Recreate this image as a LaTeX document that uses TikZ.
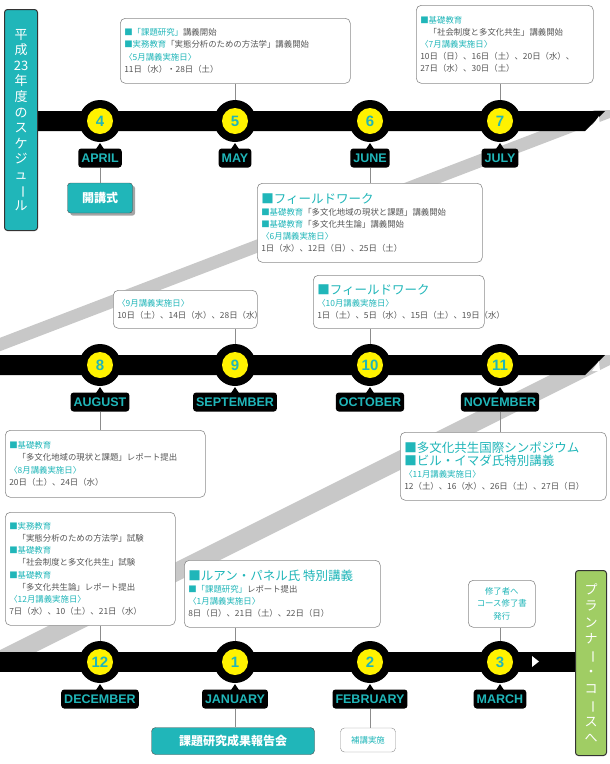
\documentclass[tikz,border=0pt]{standalone}
\usepackage{fontspec}
\usetikzlibrary{shadows}
\setmainfont{Noto Sans CJK JP}
\newfontfamily\lat{Liberation Sans}
\definecolor{tl}{RGB}{32,182,185}
\definecolor{tg}{RGB}{85,85,85}
\definecolor{gb}{RGB}{200,200,200}
\definecolor{grn}{RGB}{160,205,100}
\newcommand\tq[1]{\textcolor{tl}{#1}}
\newcommand\vb{\rotatebox[origin=c]{-90}{ー}}
\begin{document}
\begin{tikzpicture}[x=1pt,y=-1pt,
  bx/.style={draw=black!45,line width=0.6pt,rounded corners=5pt,fill=white,align=left,inner sep=4pt,anchor=north west,text=tg,font=\fontsize{8.4}{12.2}\selectfont},
  circ/.style={circle,fill=black,minimum size=42pt,inner sep=0pt},
  mon/.style={fill=black,rounded corners=3pt,text=tl,font=\lat\bfseries\fontsize{12.5}{14}\selectfont,inner sep=3pt,minimum height=19pt},
  cn/.style={draw=black!45,line width=0.8pt}]
\useasboundingbox (0,0) rectangle (610,764);
\clip (0,0) rectangle (610,764);
% gray bands
\fill[gb] (595,110) -- (610,110) -- (610,118) -- (-23,360) -- (-58,360) -- cycle;
\fill[gb] (590,355) -- (610,355) -- (610,365) -- (20,660) -- (-20,660) -- cycle;
% bars
\fill[black] (37,111) -- (605,111) -- (585,131) -- (37,131) -- cycle;
\fill[black] (0,355) -- (605,355) -- (585,375) -- (0,375) -- cycle;
\fill[black] (0,652) -- (578,652) -- (578,672) -- (0,672) -- cycle;
\fill[white] (592,126) -- (600,126) -- (599,116) -- cycle;
\fill[white] (592,371) -- (600,371) -- (599,361) -- cycle;
\fill[white] (532,656) -- (532,667) -- (539,661.5) -- cycle;
% left title
\node[draw=black!80,line width=1pt,fill=tl,rounded corners=3pt,minimum width=33pt,minimum height=221pt,anchor=north west,inner sep=0pt] (ttl) at (4,9) {};
\node[text=white,align=center,font=\fontsize{13}{15.6}\selectfont] (ttlt) at (ttl.center) {平\\成\\23\\年\\度\\の\\ス\\ケ\\ジ\\ュ\\\vb\\ル};
% green
\node[draw=black!80,line width=1pt,fill=grn,rounded corners=3pt,minimum width=31pt,minimum height=185pt,anchor=north west,inner sep=0pt] (gr) at (575,570) {};
\node[text=white,align=center,font=\fontsize{13}{16.5}\selectfont] (grt) at (gr.center) {プ\\ラ\\ン\\ナ\\\vb\\・\\コ\\\vb\\ス\\へ};
% circles and months
\foreach \n/\x/\y/\m in {4/100/121/APRIL,5/235/121/MAY,6/370/121/JUNE,7/500/121/JULY,
  8/100/365/AUGUST,9/235/365/SEPTEMBER,10/370/365/OCTOBER,11/500/365/NOVEMBER,
  12/100/662/DECEMBER,1/235/662/JANUARY,2/370/662/FEBRUARY,3/500/662/MARCH}{
  \node[circ] (c\n) at (\x,\y) {};
  \node[circle,fill=yellow,minimum size=26pt,inner sep=0pt,text=tl,font=\lat\bfseries\fontsize{15}{16}\selectfont] (y\n) at (\x,\y) {\n};
  \node[mon] (m\n) at (\x,\y+37) {\m};
  \fill[black] (\x-4,\y+28) -- (\x+4,\y+28) -- (\x,\y+22) -- cycle;
}
% boxes
\node[bx,text width=222pt,minimum height=65pt] (b5) at (120,18) {\tq{■「課題研究」}講義開始\\\tq{■実務教育}「実態分析のための方法学」講義開始\\\tq{〈5月講義実施日〉}\\11日（水）・28日（土）};
\node[bx,text width=169pt,minimum height=78pt] (b7) at (416,5) {\tq{■基礎教育}\\\quad「社会制度と多文化共生」講義開始\\\tq{〈7月講義実施日〉}\\10日（日）、16日（土）、20日（水）、\\27日（水）、30日（土）};
\node[draw=black!70,fill=tl,rounded corners=3pt,text=white,font=\bfseries\fontsize{12}{14}\selectfont,minimum width=65pt,minimum height=30pt,drop shadow={fill=black!70}] (k4) at (100,198) {開講式};
\node[bx,text width=217pt,minimum height=79pt] (b6) at (257,183) {\tq{\fontsize{12.5}{15}\selectfont ■フィールドワーク}\\\tq{■基礎教育}「多文化地域の現状と課題」講義開始\\\tq{■基礎教育}「多文化共生論」講義開始\\\tq{〈6月講義実施日〉}\\1日（水）、12日（日）、25日（土）};
\node[bx,text width=136pt,minimum height=38pt] (b9) at (113,290) {\tq{〈9月講義実施日〉}\\10日（土）、14日（水）、28日（水）};
\node[bx,text width=163pt,minimum height=53pt] (b10) at (313,275) {\tq{\fontsize{12.5}{15}\selectfont ■フィールドワーク}\\\tq{〈10月講義実施日〉}\\1日（土）、5日（水）、15日（土）、19日（水）};
\node[bx,text width=192pt,minimum height=67pt] (b8) at (5,430) {\tq{■基礎教育}\\\quad「多文化地域の現状と課題」レポート提出\\\tq{〈8月講義実施日〉}\\20日（土）、24日（水）};
\node[bx,text width=198pt,minimum height=68pt] (b11) at (400,432) {\tq{\fontsize{12.5}{15}\selectfont ■多文化共生国際シンポジウム}\\\tq{\fontsize{12.5}{15}\selectfont ■ビル・イマダ氏特別講義}\\\tq{〈11月講義実施日〉}\\12（土）、16（水）、26日（土）、27日（日）};
\node[bx,text width=162pt,minimum height=113pt] (b12) at (5,512) {\tq{■実務教育}\\\quad「実態分析のための方法学」試験\\\tq{■基礎教育}\\\quad「社会制度と多文化共生」試験\\\tq{■基礎教育}\\\quad「多文化共生論」レポート提出\\\tq{〈12月講義実施日〉}\\7日（水）、10（土）、21日（水）};
\node[bx,text width=188pt,minimum height=67pt] (b1) at (184,560) {\tq{\fontsize{12.5}{15}\selectfont ■ルアン・パネル氏 特別講義}\\\tq{■「課題研究」}レポート提出\\\tq{〈1月講義実施日〉}\\8日（日）、21日（土）、22日（日）};
\node[bx,align=center,text width=59pt,minimum height=47pt,text=tl] (b3) at (468,580) {修了者へ\\コース修了書\\発行};
\node[draw=black!70,fill=tl,rounded corners=4pt,text=white,font=\bfseries\fontsize{12}{14}\selectfont,minimum width=163pt,minimum height=27pt] (k1) at (233,741) {課題研究成果報告会};
\node[draw=black!45,fill=white,rounded corners=4pt,text=tl,font=\fontsize{8.4}{10}\selectfont,minimum width=55pt,minimum height=24pt] (k2) at (368,740) {補講実施};
% connectors
\draw[cn] (m4.south) -- (k4.north);
\draw[cn] (b5.south-|c5) -- (c5.north);
\draw[cn] (b7.south-|c7) -- (c7.north);
\draw[cn] (m6.south) -- (b6.north-|m6);
\draw[cn] (b9.south-|c9) -- (c9.north);
\draw[cn] (b10.south-|c10) -- (c10.north);
\draw[cn] (m8.south) -- (b8.north-|m8);
\draw[cn] (m11.south) -- (b11.north-|m11);
\draw[cn] (b12.south-|c12) -- (c12.north);
\draw[cn] (b1.south-|c1) -- (c1.north);
\draw[cn] (b3.south-|c3) -- (c3.north);
\draw[cn] (m1.south) -- (k1.north-|m1);
\draw[cn] (m2.south) -- (k2.north-|m2);
\end{tikzpicture}
\end{document}
